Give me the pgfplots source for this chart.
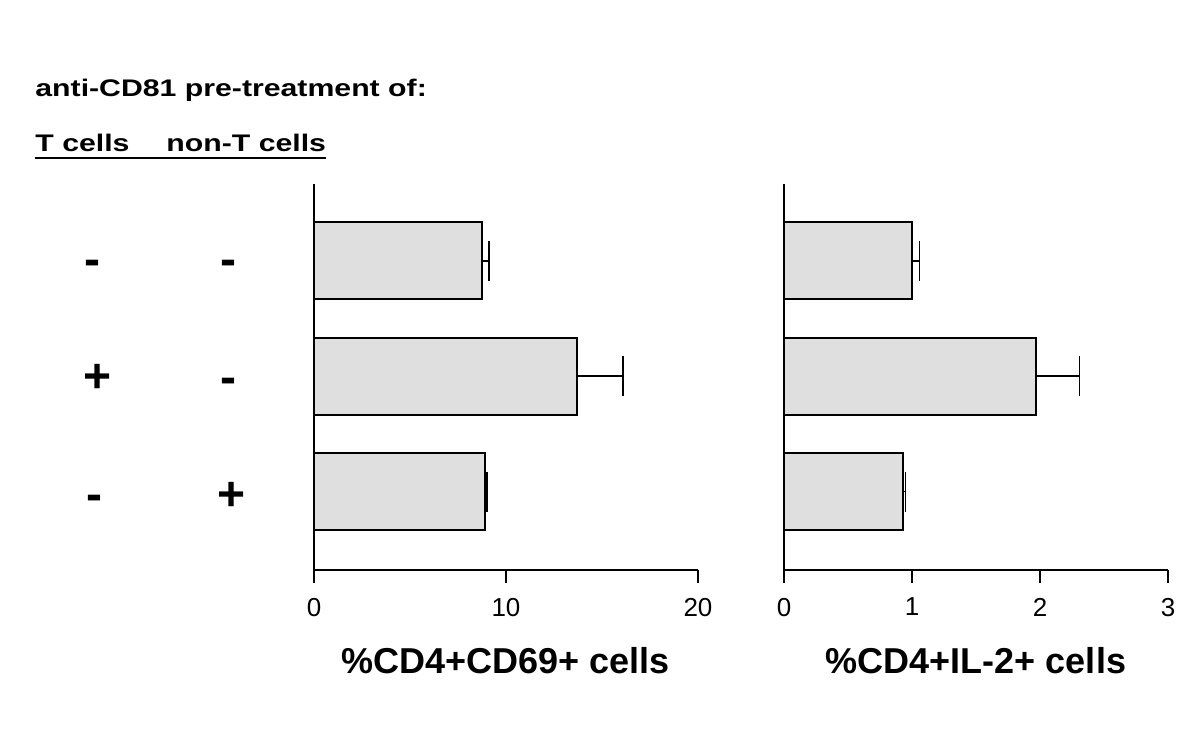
\documentclass[border=0pt]{standalone}
\usepackage{pgfplots}
\pgfplotsset{compat=1.18}
\usepackage{fontspec}
\setmainfont{Liberation Sans}
\usepackage{graphicx}
\definecolor{barfill}{RGB}{223,223,223}

\pgfplotsset{
  panel/.style={
    scale only axis, width=192pt, height=193pt, anchor=south west,
    axis x line=bottom, axis y line=left,
    axis line style={-, line width=1.1pt},
    xbar, bar width=38.5pt,
    ymin=0.319, ymax=3.668, xmin=0, ytick=\empty,
    tick align=outside, major tick length=6.5pt,
    tick style={line width=1.1pt, black},
    xticklabel style={font=\fontsize{13}{15}\selectfont, yshift=-4pt},
    /pgf/number format/assume math mode=true,
    xlabel style={font=\fontsize{18}{20}\selectfont\bfseries,
      at={(axis description cs:0.5,-0.269)}, anchor=base},
    clip=false,
  },
  bars/.style={draw=black, line width=1pt, fill=barfill,
    error bars/.cd, x dir=plus, x explicit, error mark=|,
    error bar style={line width=0.75pt, black},
    error mark options={mark size=10pt, line width=0.75pt, black}},
}

\newcommand{\hd}[1]{\fontsize{12}{14}\selectfont\bfseries\scalebox{1.26}[1]{#1}}
\newcommand{\sg}[1]{\fontsize{24}{28}\selectfont\bfseries #1}

\begin{document}
\begin{tikzpicture}
\path[use as bounding box] (0,0) rectangle (600pt,369pt);

% left panel
\begin{axis}[panel, at={(157pt,84pt)}, xmax=20, xtick={0,10,20},
  xlabel={\%CD4+CD69+ cells}]
\addplot[bars] coordinates {
  (8.73,3) +- (0.38,0)
  (13.7,2) +- (2.4,0)
  (8.9,1)  +- (0.12,0)
};
\end{axis}

% right panel
\begin{axis}[panel, at={(392pt,84pt)}, xmax=3, xtick={0,1,2,3},
  xlabel={\%CD4+IL-2+ cells}]
\addplot[bars] coordinates {
  (1.0,3)   +- (0.06,0)
  (1.965,2) +- (0.345,0)
  (0.93,1)  +- (0.02,0)
};
\end{axis}

% header
\node[anchor=base west, inner sep=0] at (17.5pt,320.6pt) {\hd{anti-CD81 pre-treatment of:}};
\node[anchor=base west, inner sep=0] at (17.5pt,293pt) {\hd{T cells}};
\node[anchor=base west, inner sep=0] at (83pt,293pt) {\hd{non-T cells}};
\draw[line width=1.25pt] (17.5pt,290pt) -- (163pt,290pt);

% treatment signs
\node[anchor=base, inner sep=0] at (46.4pt,231.3pt) {\sg{-}};
\node[anchor=base, inner sep=0] at (114pt,231.3pt) {\sg{-}};
\node[anchor=base, inner sep=0] at (49pt,172.5pt) {\sg{+}};
\node[anchor=base, inner sep=0] at (114pt,172.3pt) {\sg{-}};
\node[anchor=base, inner sep=0] at (47.2pt,113.6pt) {\sg{-}};
\node[anchor=base, inner sep=0] at (115.8pt,113.6pt) {\sg{+}};
\end{tikzpicture}
\end{document}
